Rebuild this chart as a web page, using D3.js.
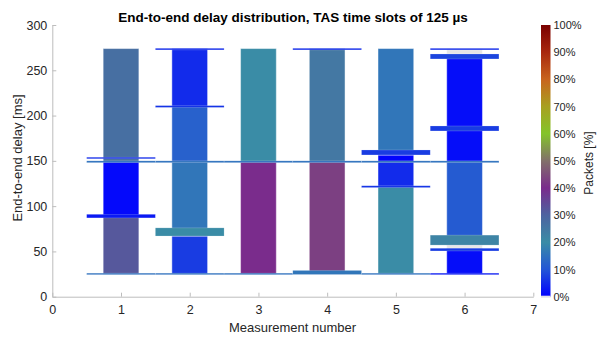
<!DOCTYPE html>
<html><head><meta charset="utf-8">
<script src="https://cdn.jsdelivr.net/npm/d3@7"></script>
<style>body{margin:0;background:#fff}svg{display:block;font-family:"Liberation Sans",Arial,sans-serif}</style>
</head><body><svg id="c" width="606" height="346"></svg>
<script>
// ---- data ----
const categories = [1, 2, 3, 4, 5, 6];
const xTicks = [0, 1, 2, 3, 4, 5, 6, 7];
const yTicks = [0, 50, 100, 150, 200, 250, 300];
const cbTicks = [0, 10, 20, 30, 40, 50, 60, 70, 80, 90, 100];
// colormap stops (percent -> colour); exactly 0 % is drawn light grey
const cmapPct = [0, 10, 20, 30, 40, 50, 60, 70, 80, 90, 100];
const cmapCol = ["#0000ff", "#2356d6", "#3a8ca6", "#4d63a0", "#7a2c8c", "#82706a", "#84c42a", "#a8a020", "#c8641e", "#a8280e", "#7a0000"];
// delay-interval bins drawn as narrow bars: [measurement, low ms, high ms, packets %]
const bins = [
  [1, 25, 89, 32], [1, 89, 149, 1], [1, 149, 274, 27],
  [2, 25, 67, 7], [2, 67, 149, 16], [2, 149, 210, 12], [2, 210, 274, 5],
  [3, 25, 149, 40], [3, 149, 274, 20],
  [4, 25, 149, 43], [4, 149, 274, 25],
  [5, 25, 121.5, 20], [5, 121.5, 149, 5], [5, 149, 156.5, 0.5], [5, 156.5, 274, 16],
  [6, 25, 53.5, 1.5], [6, 53.5, 57, 0], [6, 57, 149, 11], [6, 149, 268, 1.5], [6, 268, 274, 0]
];
// narrow delay spikes drawn full width: [measurement, low ms, high ms, packets %]
const spikes = [
  [1, 148, 150, 15], [2, 148, 150, 15], [3, 148, 150, 15], [4, 148, 150, 15], [5, 148, 150, 15], [6, 148, 150, 15],
  [1, 24.3, 26, 15], [2, 24.3, 26, 15], [3, 24.3, 26, 15], [5, 24.3, 26, 15], [6, 24.3, 26, 3],
  [1, 152.3, 154, 5], [1, 87, 91, 3],
  [2, 272.5, 274.3, 5], [2, 209, 211, 6], [2, 67, 76, 20],
  [4, 272.5, 274.3, 5], [4, 24.5, 29, 16],
  [5, 156.5, 162, 7], [5, 120.5, 122.5, 6],
  [6, 272.5, 274.3, 5], [6, 262.5, 268, 8], [6, 183, 188.5, 7], [6, 57, 68, 22], [6, 50.5, 53.5, 7]
];

// ---- chart ----
const svg = d3.select("#c");
const x = d3.scaleLinear().domain([0, 7]).range([52.3, 533.3]);
const y = d3.scaleLinear().domain([0, 300]).range([296.7, 25]);
const cmap = d3.scaleLinear().domain(cmapPct).range(cmapCol).clamp(true);
const col = p => p === 0 ? "#e6e6e6" : cmap(p);
const txt = "#262626", axc = "#bdbdbd";

// axes
const gx = svg.append("g").attr("transform", `translate(0,${y(0)})`)
  .call(d3.axisBottom(x).tickValues(xTicks).tickFormat(d3.format("d")).tickSizeInner(-4).tickSizeOuter(0).tickPadding(8));
const gy = svg.append("g").attr("transform", `translate(${x(0)},0)`)
  .call(d3.axisLeft(y).tickValues(yTicks).tickSizeInner(-4).tickSizeOuter(0).tickPadding(5));
[gx, gy].forEach(g => {
  g.select(".domain").attr("stroke", axc);
  g.selectAll(".tick line").attr("stroke", axc);
  g.selectAll(".tick text").attr("fill", txt).style("font-size", "12.5px").style("font-family", "Liberation Sans, Arial, sans-serif");
});

const hw = 0.26;
svg.append("g").selectAll("rect").data(bins).join("rect")
  .attr("x", d => x(d[0] - hw)).attr("width", d => x(d[0] + hw) - x(d[0] - hw))
  .attr("y", d => y(d[2])).attr("height", d => y(d[1]) - y(d[2]))
  .attr("fill", d => col(d[3]))
  .attr("stroke", "#ffffff").attr("stroke-opacity", 0.45).attr("stroke-width", 1);
svg.append("g").selectAll("rect").data(spikes).join("rect")
  .attr("x", d => x(d[0] - 0.5)).attr("width", d => x(d[0] + 0.5) - x(d[0] - 0.5))
  .attr("y", d => y(d[2])).attr("height", d => Math.max(1, y(d[1]) - y(d[2])))
  .attr("fill", d => col(d[3]))
  .attr("stroke", "#ffffff").attr("stroke-opacity", 0.3).attr("stroke-width", 0.6);

// labels
svg.append("text").attr("x", 293).attr("y", 22).attr("text-anchor", "middle")
  .attr("font-weight", "bold").attr("font-size", 13.5).attr("fill", "#000")
  .text("End-to-end delay distribution, TAS time slots of 125 µs");
svg.append("text").attr("x", 292.5).attr("y", 332).attr("text-anchor", "middle")
  .attr("font-size", 13).attr("fill", txt).text("Measurement number");
svg.append("text").attr("transform", "translate(22,158) rotate(-90)").attr("text-anchor", "middle")
  .attr("font-size", 13).attr("fill", txt).text("End-to-end delay [ms]");

// colorbar
const cb = d3.scaleLinear().domain([0, 100]).range([296.7, 25]);
const defs = svg.append("defs");
const grad = defs.append("linearGradient").attr("id", "cbg").attr("x1", 0).attr("y1", 1).attr("x2", 0).attr("y2", 0);
grad.selectAll("stop").data(cmapPct).join("stop")
  .attr("offset", d => d / 100).attr("stop-color", d => cmap(d));
svg.append("rect").attr("x", 541).attr("width", 9.5).attr("y", cb(100)).attr("height", cb(0) - cb(100)).attr("fill", "url(#cbg)");
svg.append("rect").attr("x", 541).attr("width", 9.5).attr("y", cb(0) - 1).attr("height", 2).attr("fill", "#e0e0e8");
const gc = svg.append("g").attr("transform", "translate(550.5,0)")
  .call(d3.axisRight(cb).tickValues(cbTicks).tickFormat(d => d + "%").tickSize(0).tickPadding(3));
gc.select(".domain").remove();
gc.selectAll(".tick text").attr("fill", txt).style("font-size", "11px").style("font-family", "Liberation Sans, Arial, sans-serif");
svg.append("text").attr("transform", "translate(593,163) rotate(-90)").attr("text-anchor", "middle")
  .attr("font-size", 12).attr("fill", txt).text("Packets [%]");
</script></body></html>
